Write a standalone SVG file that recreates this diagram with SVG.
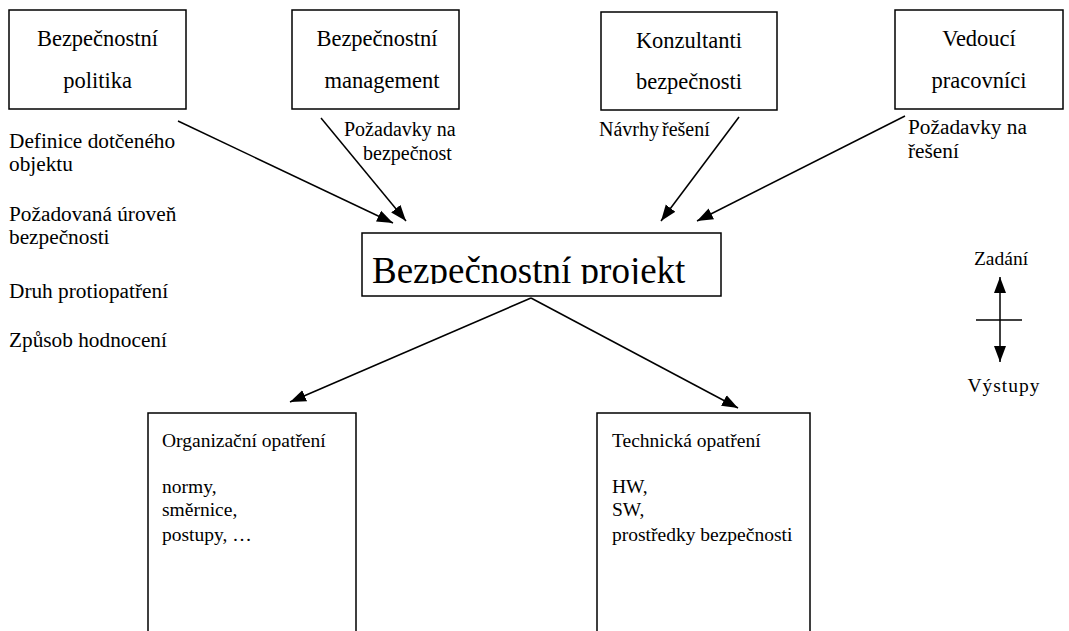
<svg xmlns="http://www.w3.org/2000/svg" width="1069" height="631" viewBox="0 0 1069 631">
  <style>
    text { font-family: "Liberation Serif"; fill: #000; }
    .title { font-size: 22.5px; text-anchor: middle; }
    .label { font-size: 20px; }
    .side { font-size: 21.3px; }
    .big { font-size: 37px; }
    .body { font-size: 19.5px; }
    .box { fill: #fff; stroke: #000; stroke-width: 1.5; }
    .conn { stroke: #000; stroke-width: 1.5; fill: none; marker-end: url(#arrow); }
  </style>
  <defs>
    <marker id="arrow" viewBox="0 0 16 12" refX="16" refY="6" markerWidth="16" markerHeight="13" markerUnits="userSpaceOnUse" orient="auto">
      <path d="M0,0 L16,6 L0,12 Z" fill="#000"/>
    </marker>
    <clipPath id="projClip">
      <rect x="362" y="233" width="359" height="51"/>
    </clipPath>
  </defs>
  <rect width="1069" height="631" fill="#fff"/>

  <g id="politika">
    <rect class="box" x="9" y="10" width="177" height="99"/>
    <text class="title" x="97.5" y="46">Bezpečnostní</text>
    <text class="title" x="97.5" y="88">politika</text>
  </g>

  <g id="management">
    <rect class="box" x="292" y="10" width="167" height="99"/>
    <text class="title" x="377" y="46">Bezpečnostní</text>
    <text class="title" x="382" y="88">management</text>
  </g>

  <g id="konzultanti">
    <rect class="box" x="601" y="12" width="176" height="98"/>
    <text class="title" x="689" y="48">Konzultanti</text>
    <text class="title" x="689" y="89">bezpečnosti</text>
  </g>

  <g id="vedouci">
    <rect class="box" x="895" y="10" width="168" height="99"/>
    <text class="title" x="979" y="46">Vedoucí</text>
    <text class="title" x="979" y="88">pracovníci</text>
  </g>

  <g id="inputs-left">
    <text class="side" x="9" y="148">Definice dotčeného</text>
    <text class="side" x="9" y="171">objektu</text>
    <text class="side" x="9" y="221">Požadovaná úroveň</text>
    <text class="side" x="9" y="244">bezpečnosti</text>
    <text class="side" x="9" y="298">Druh protiopatření</text>
    <text class="side" x="9" y="347">Způsob hodnocení</text>
  </g>

  <g id="edge-labels">
    <text class="label" x="344" y="136">Požadavky na</text>
    <text class="label" x="363" y="160">bezpečnost</text>
    <text class="label" x="599" y="136" word-spacing="-2">Návrhy řešení</text>
    <text class="side" x="908" y="134">Požadavky na</text>
    <text class="side" x="908" y="158">řešení</text>
  </g>

  <g id="projekt">
    <rect class="box" x="362" y="233" width="359" height="63"/>
    <text class="big" x="372" y="283" clip-path="url(#projClip)">Bezpečnostní projekt</text>
  </g>

  <g id="organizacni">
    <path class="box" d="M148,640 V413 H356 V640"/>
    <text class="body" x="162" y="447">Organizační opatření</text>
    <text class="body" x="162" y="493">normy,</text>
    <text class="body" x="162" y="516">směrnice,</text>
    <text class="body" x="162" y="541">postupy, …</text>
  </g>

  <g id="technicka">
    <path class="box" d="M597,640 V413 H810 V640"/>
    <text class="body" x="612" y="447">Technická opatření</text>
    <text class="body" x="612" y="493">HW,</text>
    <text class="body" x="612" y="516">SW,</text>
    <text class="body" x="612" y="541">prostředky bezpečnosti</text>
  </g>

  <g id="legend">
    <text class="body" x="1001" y="265" text-anchor="middle">Zadání</text>
    <line class="conn" x1="1000" y1="320" x2="1000" y2="277"/>
    <line class="conn" x1="1000" y1="320" x2="1000" y2="362"/>
    <line x1="976" y1="320" x2="1022" y2="320" stroke="#000" stroke-width="1.5"/>
    <text class="body" x="1004" y="392" text-anchor="middle" letter-spacing="1">Výstupy</text>
  </g>

  <g id="connectors">
    <line class="conn" x1="178" y1="121" x2="393" y2="223"/>
    <line class="conn" x1="321" y1="118" x2="406" y2="221"/>
    <line class="conn" x1="739" y1="117" x2="661" y2="221"/>
    <line class="conn" x1="905" y1="116" x2="697" y2="221"/>
    <line class="conn" x1="531" y1="298" x2="290" y2="402"/>
    <line class="conn" x1="531" y1="298" x2="738" y2="408"/>
  </g>
</svg>
